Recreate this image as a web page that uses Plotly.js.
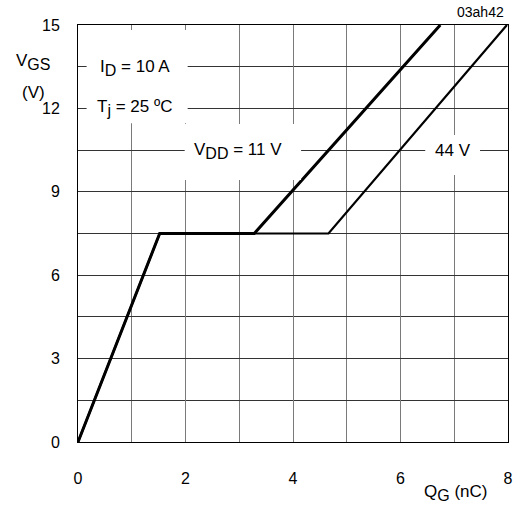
<!DOCTYPE html>
<html>
<head>
<meta charset="utf-8">
<script src="https://cdn.plot.ly/plotly-3.0.1.min.js"></script>
<style>body{margin:0;background:#fff}#chart{width:517px;height:508px}</style>
</head>
<body>
<div id="chart"></div>
<script>
// Gate charge curves, VDD = 11 V and 44 V
var qg11 = [0, 1.52, 3.28, 6.74];
var vgs11 = [0, 7.5, 7.5, 15];
var qg44 = [0, 1.52, 4.66, 7.98];
var vgs44 = [0, 7.5, 7.5, 15];

var xTickVals = [0, 2, 4, 6, 8];
var xTickText = ['0', '2', '4', '6', '8'];
var xMinorVals = [1, 3, 5, 7];
var yTickVals = [0, 3, 6, 9, 12, 15];
var yTickText = ['0', '3', '6', '9', '12', '15'];
var yMinorVals = [1.5, 4.5, 7.5, 10.5, 13.5];

var FONT = 'Liberation Sans, Arial, sans-serif';
function sub(s) { return '<sub><span style="font-size:16px">' + s + '</span></sub>'; }

var traces = [
  {x: qg11, y: vgs11, mode: 'lines', line: {color: '#000', width: 3}, hoverinfo: 'skip'},
  {x: qg44, y: vgs44, mode: 'lines', line: {color: '#000', width: 2.2}, hoverinfo: 'skip'}
];

function whiteBox(x0, x1, y0, y1) {
  return {type: 'rect', xref: 'x', yref: 'y', x0: x0, x1: x1, y0: y0, y1: y1,
          fillcolor: '#fff', line: {width: 0}, layer: 'above'};
}

var layout = {
  width: 517, height: 508,
  margin: {l: 78, r: 9, t: 25, b: 66},
  paper_bgcolor: '#fff', plot_bgcolor: '#fff',
  showlegend: false,
  font: {family: FONT, size: 17, color: '#000'},
  xaxis: {
    range: [0, 8], tickmode: 'array', tickvals: xTickVals, ticktext: xTickText,
    showgrid: true, gridcolor: '#7a7a7a', gridwidth: 1,
    minor: {tickmode: 'array', tickvals: xMinorVals, showgrid: true, gridcolor: '#7a7a7a', gridwidth: 1, ticks: ''},
    zeroline: false, showline: true, linecolor: '#000', linewidth: 1, mirror: true,
    ticks: '', ticklabelstandoff: 22, tickfont: {size: 16}
  },
  yaxis: {
    range: [0, 15], tickmode: 'array', tickvals: yTickVals, ticktext: yTickText,
    showgrid: true, gridcolor: '#333', gridwidth: 1,
    minor: {tickmode: 'array', tickvals: yMinorVals, showgrid: true, gridcolor: '#333', gridwidth: 1, ticks: ''},
    zeroline: false, showline: true, linecolor: '#000', linewidth: 1, mirror: true,
    ticks: '', ticklabelstandoff: 14, tickfont: {size: 16}
  },
  shapes: [
    whiteBox(0.16, 2.04, 11.47, 14.82),
    whiteBox(1.985, 4.15, 9.42, 11.44),
    whiteBox(6.46, 7.48, 9.6, 11.04)
  ],
  annotations: [
    {xref: 'x', yref: 'y', x: 0.38, y: 13.45, xanchor: 'left', yanchor: 'middle',
     text: 'I' + sub('D') + ' = 10 A', showarrow: false},
    {xref: 'x', yref: 'y', x: 0.32, y: 12.0, xanchor: 'left', yanchor: 'middle',
     text: 'T' + sub('j') + ' = 25 ºC', showarrow: false},
    {xref: 'x', yref: 'y', x: 2.12, y: 10.45, xanchor: 'left', yanchor: 'middle',
     text: 'V' + sub('DD') + ' = 11 V', showarrow: false},
    {xref: 'x', yref: 'y', x: 6.6, y: 10.5, xanchor: 'left', yanchor: 'middle',
     text: '44 V', showarrow: false},
    // axis titles
    {xref: 'paper', yref: 'paper', x: -0.105, y: 0.912, xanchor: 'center', yanchor: 'middle',
     text: 'V' + sub('GS'), showarrow: false},
    {xref: 'paper', yref: 'paper', x: -0.103, y: 0.838, xanchor: 'center', yanchor: 'middle',
     text: '(V)', showarrow: false},
    {xref: 'paper', yref: 'paper', x: 0.877, y: -0.122, xanchor: 'center', yanchor: 'middle',
     text: 'Q' + sub('G') + ' (nC)', showarrow: false},
    {xref: 'paper', yref: 'paper', x: 0.995, y: 1.031, xanchor: 'right', yanchor: 'middle',
     text: '03ah42', showarrow: false, font: {size: 14}}
  ]
};

Plotly.newPlot('chart', traces, layout, {displayModeBar: false, staticPlot: true});
</script>
</body>
</html>
